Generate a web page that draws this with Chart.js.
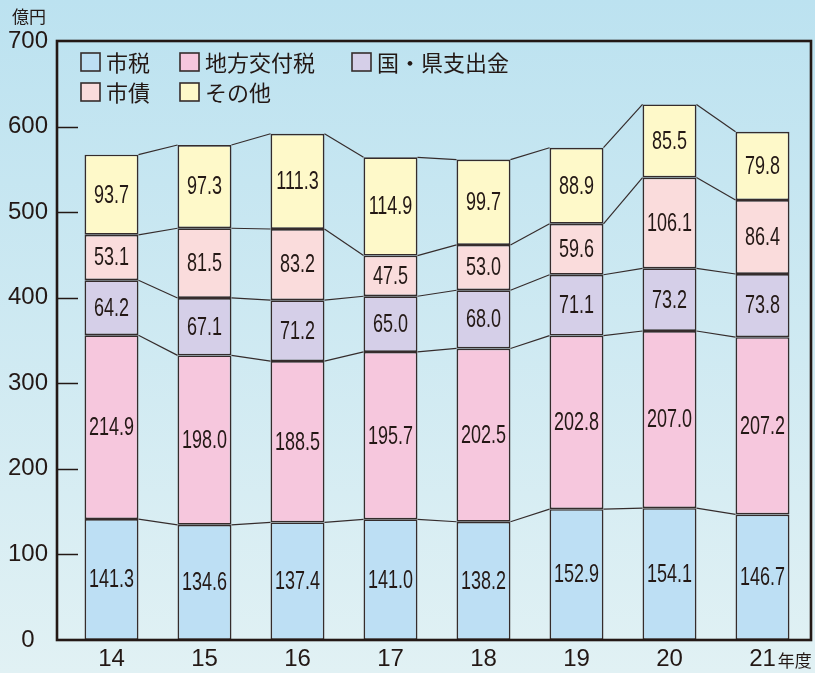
<!DOCTYPE html>
<html lang="ja">
<head>
<meta charset="utf-8">
<title>歳入の推移</title>
<script src="https://cdn.jsdelivr.net/npm/chart.js@4"></script>
<style>
    html, body { margin: 0; padding: 0; }
    body {
        width: 815px;
        height: 673px;
        overflow: hidden;
        background: linear-gradient(#bce2f0, #e1f1f4);
    }
</style>
</head>
<body>
<canvas id="revenueChart" width="815" height="673"></canvas>
<script>
// Data (億円)
const years = ['14', '15', '16', '17', '18', '19', '20', '21'];
const seriesNames = ['市税', '地方交付税', '国・県支出金', '市債', 'その他'];
const shizei = [141.3, 134.6, 137.4, 141.0, 138.2, 152.9, 154.1, 146.7];
const koufuzei = [214.9, 198.0, 188.5, 195.7, 202.5, 202.8, 207.0, 207.2];
const shishutsukin = [64.2, 67.1, 71.2, 65.0, 68.0, 71.1, 73.2, 73.8];
const shisai = [53.1, 81.5, 83.2, 47.5, 53.0, 59.6, 106.1, 86.4];
const sonota = [93.7, 97.3, 111.3, 114.9, 99.7, 88.9, 85.5, 79.8];
const yTicks = [0, 100, 200, 300, 400, 500, 600, 700];

const seriesValues = [shizei, koufuzei, shishutsukin, shisai, sonota];
const seriesColors = ['#bddff4', '#f6c7dd', '#d5cfe8', '#fadcdc', '#fef9c9'];
const inkColor = '#231815';
const lineColor = '#352c2c';

// Frame, tick marks, connecting lines, value labels and legend
const decorations = {
    id: 'decorations',
    afterDatasetsDraw(chart) {
        const ctx = chart.ctx;
        // Lines joining segment tops of neighbouring bars
        ctx.save();
        ctx.strokeStyle = lineColor;
        ctx.lineWidth = 1.2;
        chart.data.datasets.forEach((ds, k) => {
            const bars = chart.getDatasetMeta(k).data;
            for (let i = 0; i < bars.length - 1; i++) {
                const a = bars[i], b = bars[i + 1];
                ctx.beginPath();
                ctx.moveTo(a.x + a.width / 2, a.y);
                ctx.lineTo(b.x - b.width / 2, b.y);
                ctx.stroke();
            }
        });
        ctx.restore();

        // Value labels, narrowed like the original
        ctx.save();
        ctx.fillStyle = inkColor;
        ctx.font = '25px "Liberation Sans", Arial, sans-serif';
        ctx.textAlign = 'center';
        ctx.textBaseline = 'middle';
        chart.data.datasets.forEach((ds, k) => {
            chart.getDatasetMeta(k).data.forEach((bar, i) => {
                const cy = (bar.y + bar.base) / 2;
                ctx.save();
                ctx.translate(bar.x, cy + 1);
                ctx.scale(0.72, 1);
                ctx.fillText(ds.data[i].toFixed(1), 0, 0);
                ctx.restore();
            });
        });
        ctx.restore();
    },
    afterDraw(chart) {
        const ctx = chart.ctx;
        const area = chart.chartArea;
        const yScale = chart.scales.y;
        const xScale = chart.scales.x;
        const left = area.left - 8;
        const right = area.right + 2;

        // Frame
        ctx.save();
        ctx.strokeStyle = inkColor;
        ctx.lineWidth = 2.6;
        ctx.strokeRect(left, area.top, right - left, area.bottom - area.top);

        // Short tick marks inside the left edge
        ctx.lineWidth = 1.5;
        yTicks.slice(1, -1).forEach(v => {
            const y = Math.round(yScale.getPixelForValue(v)) + 0.5;
            ctx.beginPath();
            ctx.moveTo(left, y);
            ctx.lineTo(left + 21, y);
            ctx.stroke();
        });
        ctx.restore();

        // Unit labels
        ctx.save();
        ctx.fillStyle = inkColor;
        ctx.font = '17px "Noto Sans CJK JP", sans-serif';
        ctx.textBaseline = 'middle';
        ctx.textAlign = 'center';
        ctx.fillText('億円', 29, 17);
        ctx.font = '24px "Liberation Sans", Arial, sans-serif';
        const lastX = xScale.getPixelForTick(years.length - 1);
        const lastW = ctx.measureText(years[years.length - 1]).width;
        ctx.font = '17px "Noto Sans CJK JP", sans-serif';
        ctx.textAlign = 'left';
        ctx.fillText('年度', lastX + lastW / 2 + 2, 661);
        ctx.restore();

        // Legend inside the plot
        const cols = [81, 180, 352];
        const rows = [53, 83];
        const layout = [[0, 0], [0, 1], [0, 2], [1, 0], [1, 1]];
        ctx.save();
        ctx.font = '22px "Noto Sans CJK JP", sans-serif';
        ctx.textBaseline = 'middle';
        ctx.textAlign = 'left';
        layout.forEach(([r, c], idx) => {
            const bx = cols[c], by = rows[r];
            ctx.fillStyle = seriesColors[idx];
            ctx.fillRect(bx, by, 19, 18);
            ctx.strokeStyle = lineColor;
            ctx.lineWidth = 1.6;
            ctx.strokeRect(bx, by, 19, 18);
            ctx.fillStyle = inkColor;
            ctx.fillText(seriesNames[idx], bx + 25, by + 10);
        });
        ctx.restore();
    }
};

const datasets = seriesValues.map((vals, k) => ({
    label: seriesNames[k],
    data: vals,
    backgroundColor: seriesColors[k],
    borderColor: lineColor,
    borderWidth: 1.7,
    borderSkipped: false,
    barPercentage: 0.58,
    categoryPercentage: 1.0
}));

const revenueChart = new Chart(document.getElementById('revenueChart'), {
    type: 'bar',
    data: {
        labels: years,
        datasets: datasets
    },
    options: {
        responsive: false,
        animation: false,
        layout: {
            padding: { top: 41, right: 6, left: 0, bottom: 0 }
        },
        plugins: {
            legend: { display: false },
            tooltip: { enabled: false }
        },
        scales: {
            x: {
                stacked: true,
                grid: { display: false, drawTicks: false },
                border: { display: false },
                ticks: {
                    color: inkColor,
                    padding: 5,
                    font: { family: '"Liberation Sans", Arial, sans-serif', size: 24 }
                },
                afterFit(scale) { scale.height = 33; }
            },
            y: {
                stacked: true,
                min: 0,
                max: 700,
                grid: { display: false, drawTicks: false },
                border: { display: false },
                afterBuildTicks(scale) {
                    scale.ticks = yTicks.map(v => ({ value: v }));
                },
                ticks: {
                    color: inkColor,
                    padding: 17,
                    crossAlign: 'center',
                    font: { family: '"Liberation Sans", Arial, sans-serif', size: 24 }
                },
                afterFit(scale) { scale.width = 65; }
            }
        }
    },
    plugins: [decorations]
});
</script>
</body>
</html>
